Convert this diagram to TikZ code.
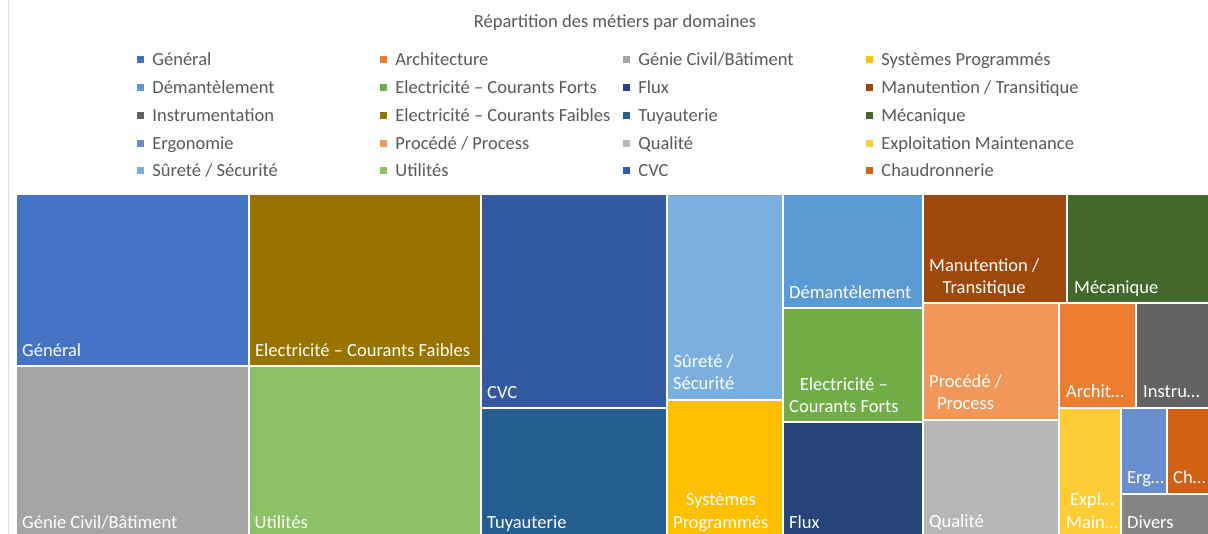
\documentclass[tikz,border=0pt]{standalone}
\usepackage{fontspec}
\setmainfont{Carlito}
\usepackage{tikz}
\usetikzlibrary{positioning}

\definecolor{txtgray}{HTML}{595959}
\definecolor{framegray}{HTML}{E3E3E3}
\definecolor{cGen}{HTML}{4472C4}
\definecolor{cArc}{HTML}{ED7D31}
\definecolor{cGC}{HTML}{A5A5A5}
\definecolor{cSys}{HTML}{FFC000}
\definecolor{cDem}{HTML}{5B9BD5}
\definecolor{cECFo}{HTML}{70AD47}
\definecolor{cFlu}{HTML}{264478}
\definecolor{cMan}{HTML}{9E480E}
\definecolor{cIns}{HTML}{636363}
\definecolor{cECFa}{HTML}{997300}
\definecolor{cTuy}{HTML}{255E91}
\definecolor{cMec}{HTML}{43682B}
\definecolor{cErg}{HTML}{698ED0}
\definecolor{cPro}{HTML}{F1975A}
\definecolor{cQua}{HTML}{B7B7B7}
\definecolor{cExp}{HTML}{FFCD33}
\definecolor{cSur}{HTML}{7CAFDD}
\definecolor{cUti}{HTML}{8CC168}
\definecolor{cCVC}{HTML}{335AA1}
\definecolor{cCha}{HTML}{D26012}
\definecolor{cDiv}{HTML}{848484}

\begin{document}
\begin{tikzpicture}[x=1pt, y=-1pt, font=\fontsize{18.5}{22.5}\selectfont]
\tikzstyle{cell}=[draw=white, line width=2pt]
\tikzstyle{lab}=[text=white, inner sep=0pt, anchor=base west, align=center]
\tikzstyle{legsq}=[inner sep=0pt, minimum size=7pt]
\tikzstyle{legtxt}=[text=txtgray, inner sep=0pt, text height=12pt, text depth=0pt]
\useasboundingbox (0,0) rectangle (1208,534);
\clip (0,0) rectangle (1208,534);
\fill[white] (0,0) rectangle (1208,534);
\draw[framegray, line width=0.8pt] (8,0) -- (8,534);

% title
\node[text=txtgray, anchor=base] (title) at (615,28) {Répartition des métiers par domaines};

% legend
\node[legsq, fill=cGen] (lgGen) at (140.5,60) {};
\node[legtxt, right=8pt of lgGen] (ltGen) {Général};
\node[legsq, fill=cDem] (lgDem) at (140.5,88) {};
\node[legtxt, right=8pt of lgDem] (ltDem) {Démantèlement};
\node[legsq, fill=cIns] (lgIns) at (140.5,116) {};
\node[legtxt, right=8pt of lgIns] (ltIns) {Instrumentation};
\node[legsq, fill=cErg] (lgErg) at (140.5,143.5) {};
\node[legtxt, right=8pt of lgErg] (ltErg) {Ergonomie};
\node[legsq, fill=cSur] (lgSur) at (140.5,171) {};
\node[legtxt, right=8pt of lgSur] (ltSur) {Sûreté / Sécurité};

\node[legsq, fill=cArc] (lgArc) at (383.5,60) {};
\node[legtxt, right=8pt of lgArc] (ltArc) {Architecture};
\node[legsq, fill=cECFo] (lgECFo) at (383.5,88) {};
\node[legtxt, right=8pt of lgECFo] (ltECFo) {Electricité – Courants Forts};
\node[legsq, fill=cECFa] (lgECFa) at (383.5,116) {};
\node[legtxt, right=8pt of lgECFa] (ltECFa) {Electricité – Courants Faibles};
\node[legsq, fill=cPro] (lgPro) at (383.5,143.5) {};
\node[legtxt, right=8pt of lgPro] (ltPro) {Procédé / Process};
\node[legsq, fill=cUti] (lgUti) at (383.5,171) {};
\node[legtxt, right=8pt of lgUti] (ltUti) {Utilités};

\node[legsq, fill=cGC] (lgGC) at (626.5,60) {};
\node[legtxt, right=8pt of lgGC] (ltGC) {Génie Civil/Bâtiment};
\node[legsq, fill=cFlu] (lgFlu) at (626.5,88) {};
\node[legtxt, right=8pt of lgFlu] (ltFlu) {Flux};
\node[legsq, fill=cTuy] (lgTuy) at (626.5,116) {};
\node[legtxt, right=8pt of lgTuy] (ltTuy) {Tuyauterie};
\node[legsq, fill=cQua] (lgQua) at (626.5,143.5) {};
\node[legtxt, right=8pt of lgQua] (ltQua) {Qualité};
\node[legsq, fill=cCVC] (lgCVC) at (626.5,171) {};
\node[legtxt, right=8pt of lgCVC] (ltCVC) {CVC};

\node[legsq, fill=cSys] (lgSys) at (869.5,60) {};
\node[legtxt, right=8pt of lgSys] (ltSys) {Systèmes Programmés};
\node[legsq, fill=cMan] (lgMan) at (869.5,88) {};
\node[legtxt, right=8pt of lgMan] (ltMan) {Manutention / Transitique};
\node[legsq, fill=cMec] (lgMec) at (869.5,116) {};
\node[legtxt, right=8pt of lgMec] (ltMec) {Mécanique};
\node[legsq, fill=cExp] (lgExp) at (869.5,143.5) {};
\node[legtxt, right=8pt of lgExp] (ltExp) {Exploitation Maintenance};
\node[legsq, fill=cCha] (lgCha) at (869.5,171) {};
\node[legtxt, right=8pt of lgCha] (ltCha) {Chaudronnerie};

% treemap cells
\filldraw[cell, fill=cGen] (16,194) rectangle (248.5,366);
\filldraw[cell, fill=cGC] (16,366) rectangle (248.5,540);
\filldraw[cell, fill=cECFa] (248.5,194) rectangle (481,366);
\filldraw[cell, fill=cUti] (248.5,366) rectangle (481,540);
\filldraw[cell, fill=cCVC] (481,194) rectangle (667,408.5);
\filldraw[cell, fill=cTuy] (481,408.5) rectangle (667,540);
\filldraw[cell, fill=cSur] (667,194) rectangle (783,400);
\filldraw[cell, fill=cSys] (667,400) rectangle (783,540);
\filldraw[cell, fill=cDem] (783,194) rectangle (922.5,308);
\filldraw[cell, fill=cECFo] (783,308) rectangle (922.5,422);
\filldraw[cell, fill=cFlu] (783,422) rectangle (922.5,540);
\filldraw[cell, fill=cMan] (922.5,194) rectangle (1067,303);
\filldraw[cell, fill=cMec] (1067,194) rectangle (1212,303);
\filldraw[cell, fill=cPro] (922.5,303) rectangle (1058.5,420);
\filldraw[cell, fill=cQua] (922.5,420) rectangle (1058.5,540);
\filldraw[cell, fill=cArc] (1058.5,303) rectangle (1136,408);
\filldraw[cell, fill=cIns] (1136,303) rectangle (1212,408);
\filldraw[cell, fill=cExp] (1058.5,408) rectangle (1121,540);
\filldraw[cell, fill=cErg] (1121,408) rectangle (1167,494);
\filldraw[cell, fill=cCha] (1167,408) rectangle (1212,494);
\filldraw[cell, fill=cDiv] (1121,494) rectangle (1212,540);

% cell labels (base = last line)
\node[lab] (nGen) at (22,357) {Général};
\node[lab] (nGC) at (22,528) {Génie Civil/Bâtiment};
\node[lab] (nECFa) at (255,357) {Electricité – Courants Faibles};
\node[lab] (nUti) at (254.5,528) {Utilités};
\node[lab] (nCVC) at (487,399) {CVC};
\node[lab] (nTuy) at (487,528) {Tuyauterie};
\node[lab] (nSur) at (673,390) {Sûreté /\\Sécurité};
\node[lab] (nSys) at (673,528) {Systèmes\\Programmés};
\node[lab] (nDem) at (789,299) {Démantèlement};
\node[lab] (nECFo) at (789,413) {Electricité –\\Courants Forts};
\node[lab] (nFlu) at (789,528) {Flux};
\node[lab] (nMan) at (929,294) {Manutention /\\Transitique};
\node[lab] (nMec) at (1074,294) {Mécanique};
\node[lab] (nPro) at (929,410) {Procédé /\\Process};
\node[lab] (nQua) at (929,527) {Qualité};
\node[lab] (nArc) at (1066,398) {Archit…};
\node[lab] (nIns) at (1143,398) {Instru…};
\node[lab] (nExp) at (1066,528) {Expl…\\Main…};
\node[lab] (nErg) at (1127,483) {Erg…};
\node[lab] (nCha) at (1173,483) {Ch…};
\node[lab] (nDiv) at (1127,528) {Divers};
\end{tikzpicture}
\end{document}
